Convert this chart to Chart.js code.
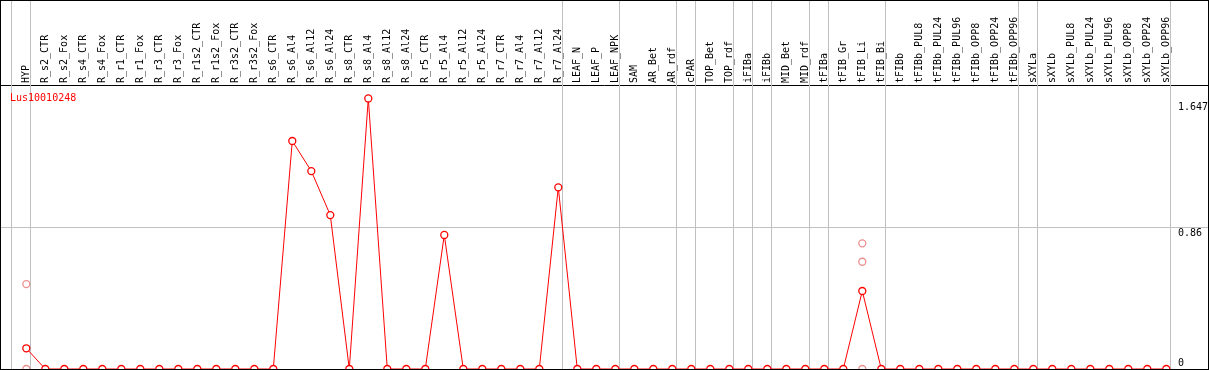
<!DOCTYPE html>
<html>
<head>
<meta charset="utf-8">
<script src="https://cdn.jsdelivr.net/npm/chart.js@4/dist/chart.umd.min.js"></script>
<style>
  html, body { margin: 0; padding: 0; background: #fff; }
  #wrap { width: 1209px; height: 370px; }
</style>
</head>
<body>
<div id="wrap"><canvas id="canvas" width="1209" height="370"></canvas></div>
<script>
var geneName = 'Lus10010248';

var categories = [
  'HYP',
  'R_s2_CTR', 'R_s2_Fox', 'R_s4_CTR', 'R_s4_Fox', 'R_r1_CTR', 'R_r1_Fox', 'R_r3_CTR', 'R_r3_Fox',
  'R_r1s2_CTR', 'R_r1s2_Fox', 'R_r3s2_CTR', 'R_r3s2_Fox',
  'R_s6_CTR', 'R_s6_Al4', 'R_s6_Al12', 'R_s6_Al24',
  'R_s8_CTR', 'R_s8_Al4', 'R_s8_Al12', 'R_s8_Al24',
  'R_r5_CTR', 'R_r5_Al4', 'R_r5_Al12', 'R_r5_Al24',
  'R_r7_CTR', 'R_r7_Al4', 'R_r7_Al12', 'R_r7_Al24',
  'LEAF_N', 'LEAF_P', 'LEAF_NPK',
  'SAM', 'AR_Bet', 'AR_rdf', 'cPAR', 'TOP_Bet', 'TOP_rdf', 'iFIBa', 'iFIBb', 'MID_Bet', 'MID_rdf',
  'tFIBa', 'tFIB_Gr', 'tFIB_Li', 'tFIB_Bi',
  'tFIBb', 'tFIBb_PUL8', 'tFIBb_PUL24', 'tFIBb_PUL96', 'tFIBb_OPP8', 'tFIBb_OPP24', 'tFIBb_OPP96',
  'sXYLa', 'sXYLb', 'sXYLb_PUL8', 'sXYLb_PUL24', 'sXYLb_PUL96', 'sXYLb_OPP8', 'sXYLb_OPP24', 'sXYLb_OPP96'
];

// media (linha vermelha)
var meanValues = [
  0.126,
  0, 0, 0, 0, 0, 0, 0, 0,
  0, 0, 0, 0,
  0, 1.388, 1.205, 0.937,
  0, 1.647, 0, 0,
  0, 0.816, 0, 0,
  0, 0, 0, 1.106,
  0, 0, 0,
  0, 0, 0, 0, 0, 0, 0, 0, 0, 0,
  0, 0, 0.475, 0,
  0, 0, 0, 0, 0, 0, 0,
  0, 0, 0, 0, 0, 0, 0, 0
];

// replicas visiveis (circulos rosa)
var replicateCats = ['HYP', 'HYP', 'tFIB_Li', 'tFIB_Li', 'tFIB_Li'];
var replicateValues = [0.517, 0, 0.765, 0.653, 0];

var yTicks = [0, 0.86, 1.647];

// ultima amostra de cada grupo -> linha cinza
var groupEnds = ['HYP', 'R_r7_Al24', 'LEAF_NPK', 'AR_rdf', 'cPAR', 'TOP_rdf', 'iFIBa', 'iFIBb',
  'MID_rdf', 'tFIBa', 'tFIB_Bi', 'tFIBb_OPP96', 'sXYLa', 'sXYLb_OPP96'];

var fontFamily = '"DejaVu Sans Mono", "Liberation Mono", monospace';

var framePlugin = {
  id: 'frame',
  beforeDatasetsDraw: function(chart) {
    var ctx = chart.ctx;
    var xs = chart.scales.x;
    var pos = [-1].concat(groupEnds.map(function(n) { return categories.indexOf(n); }));
    ctx.save();
    ctx.strokeStyle = '#c0c0c0';
    ctx.lineWidth = 1;
    pos.forEach(function(i) {
      var px = Math.round(xs.getPixelForValue(i + 0.2)) + 0.5;
      ctx.beginPath();
      ctx.moveTo(px, 0);
      ctx.lineTo(px, chart.chartArea.bottom);
      ctx.stroke();
    });
    ctx.restore();
  },
  afterDraw: function(chart) {
    var ctx = chart.ctx;
    var area = chart.chartArea;
    var ys = chart.scales.y;
    ctx.save();
    // rotulos do eixo y, dentro do grafico
    ctx.font = '10px ' + fontFamily;
    ctx.fillStyle = '#000';
    ctx.textAlign = 'left';
    ctx.textBaseline = 'top';
    ys.ticks.forEach(function(t) {
      var py = Math.min(ys.getPixelForValue(t.value) + 1, area.bottom - 11);
      if (py < area.top + 20) py += 3;
      ctx.fillText(t.label, area.right - 30, py);
    });
    // nome do gene
    ctx.fillStyle = '#ff0000';
    ctx.textBaseline = 'alphabetic';
    ctx.fillText(geneName, area.left + 10, area.top + 16);
    // moldura
    ctx.strokeStyle = '#000';
    ctx.lineWidth = 1;
    ctx.strokeRect(0.5, 0.5, 1208, 369);
    ctx.restore();
  }
};

var createChart = function() {
  var ctx = document.getElementById('canvas').getContext('2d');
  var meanData = meanValues.map(function(v, i) { return { x: i, y: v }; });
  var repData = replicateValues.map(function(v, i) {
    return { x: categories.indexOf(replicateCats[i]), y: v };
  });

  window.geneChart = new Chart(ctx, {
    type: 'line',
    data: {
      datasets: [{
        label: geneName,
        data: meanData,
        borderColor: '#ff0000',
        borderWidth: 1,
        tension: 0,
        pointRadius: 3.5,
        pointBorderWidth: 1.3,
        pointBorderColor: '#ff0000',
        pointBackgroundColor: '#ffffff'
      }, {
        label: 'replicas',
        data: repData,
        showLine: false,
        pointRadius: 3.5,
        pointBorderWidth: 1.3,
        pointBorderColor: '#eb9090',
        pointBackgroundColor: '#ffffff'
      }]
    },
    options: {
      responsive: false,
      animation: false,
      devicePixelRatio: 1,
      layout: { autoPadding: false, padding: { top: 0, left: 0, right: 1, bottom: 1 } },
      plugins: {
        legend: { display: false },
        tooltip: { enabled: false },
        title: { display: false }
      },
      scales: {
        x: {
          type: 'linear',
          position: 'top',
          bounds: 'data',
          min: -1.384,
          max: 62.195,
          afterBuildTicks: function(s) {
            s.ticks = categories.map(function(c, i) { return { value: i }; });
          },
          afterFit: function(s) { s.height = 85; },
          ticks: {
            autoSkip: false,
            minRotation: 90,
            maxRotation: 90,
            padding: 2,
            labelOffset: 12,
            color: '#000',
            font: { family: fontFamily, size: 10 },
            callback: function(v) { return categories[v]; }
          },
          grid: { display: false, drawTicks: false },
          border: { display: true, color: '#000', width: 1 }
        },
        y: {
          type: 'linear',
          position: 'right',
          min: 0,
          max: 1.729,
          afterBuildTicks: function(s) {
            s.ticks = yTicks.map(function(v) { return { value: v }; });
          },
          afterFit: function(s) { s.width = 0; },
          ticks: {
            display: false,
            callback: function(v) { return String(v); }
          },
          grid: {
            drawTicks: false,
            color: function(c) { return c.index === 1 ? '#c0c0c0' : 'rgba(0,0,0,0)'; }
          },
          border: { display: false }
        }
      }
    },
    plugins: [framePlugin]
  });
};

createChart();
</script>
</body>
</html>
